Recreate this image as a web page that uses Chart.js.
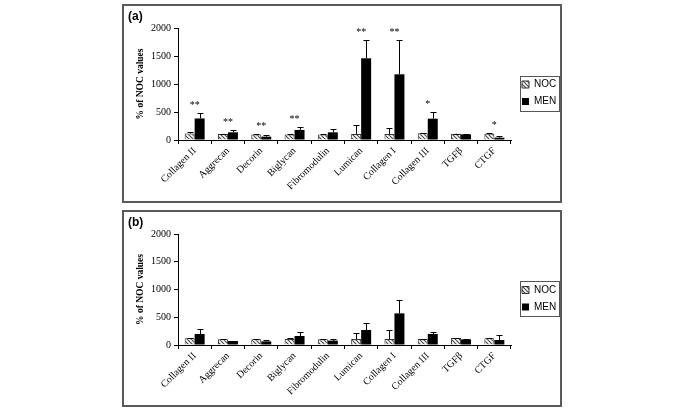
<!DOCTYPE html>
<html>
<head>
<meta charset="utf-8">
<script src="https://cdn.jsdelivr.net/npm/chart.js@4"></script>
<style>
html, body { margin: 0; padding: 0; background: #fff; width: 685px; height: 412px; overflow: hidden; }
.panel { position: absolute; left: 122px; width: 440px; box-sizing: border-box; border: 2px solid #5a5a5a; background: #fff; }
#panelA { top: 4px; height: 199px; }
#panelB { top: 210px; height: 197px; }
.panel canvas { display: block; }
</style>
</head>
<body>
<div class="panel" id="panelA"><canvas id="chartA" width="436" height="195"></canvas></div>
<div class="panel" id="panelB"><canvas id="chartB" width="436" height="193"></canvas></div>
<script>
// Gene names on the x axis
const categories = ['Collagen II', 'Aggrecan', 'Decorin', 'Biglycan', 'Fibromodulin',
                    'Lumican', 'Collagen I', 'Collagen III', 'TGFβ', 'CTGF'];
const yTicks = [0, 500, 1000, 1500, 2000];

// Panel (a)
const nocA    = [115, 105, 100, 100, 100, 107, 107, 119, 110, 113];
const nocErrA = [35, 10, 10, 10, 10, 160, 100, 10, 5, 15];
const menA    = [385, 137, 60, 180, 137, 1459, 1173, 381, 100, 42];
const menErrA = [100, 43, 30, 60, 53, 321, 607, 113, 5, 28];
const sigA    = ['**', '**', '**', '**', '', '**', '**', '*', '', '*'];

// Panel (b)
const nocB    = [120, 103, 103, 110, 103, 108, 108, 108, 126, 120];
const nocErrB = [10, 5, 5, 10, 5, 102, 162, 5, 5, 5];
const menB    = [198, 72, 65, 162, 80, 270, 570, 198, 102, 90];
const menErrB = [85, 5, 25, 78, 27, 131, 240, 36, 13, 84];
const sigB    = ['', '', '', '', '', '', '', '', '', ''];

Chart.defaults.font.family = "'Liberation Serif', 'Times New Roman', serif";
Chart.defaults.color = '#000';

// diagonal hatch used for the NOC bars
function hatch() {
    const c = document.createElement('canvas');
    c.width = 4; c.height = 4;
    const g = c.getContext('2d');
    g.fillStyle = '#fff';
    g.fillRect(0, 0, 4, 4);
    g.strokeStyle = '#4a4a4a';
    g.lineWidth = 1.2;
    g.beginPath();
    g.moveTo(0, 0); g.lineTo(4, 4);
    g.moveTo(-1, 3); g.lineTo(1, 5);
    g.moveTo(3, -1); g.lineTo(5, 1);
    g.stroke();
    return g.createPattern(c, 'repeat');
}

// upper error bars with caps
const errorBars = {
    id: 'errorBars',
    afterDatasetsDraw(chart) {
        const ctx = chart.ctx;
        const y = chart.scales.y;
        ctx.save();
        ctx.strokeStyle = '#000';
        ctx.lineWidth = 1;
        chart.data.datasets.forEach((ds, di) => {
            chart.getDatasetMeta(di).data.forEach((bar, i) => {
                const x = Math.round(bar.x) + 0.5;
                const top = Math.round(y.getPixelForValue(ds.data[i] + ds.errors[i])) + 0.5;
                ctx.beginPath();
                ctx.moveTo(x, bar.y);
                ctx.lineTo(x, top);
                ctx.moveTo(x - 3, top);
                ctx.lineTo(x + 3, top);
                ctx.stroke();
            });
        });
        ctx.restore();
    }
};

// significance asterisks above each pair
const stars = {
    id: 'stars',
    afterDatasetsDraw(chart, args, opts) {
        const ctx = chart.ctx;
        const x = chart.scales.x, y = chart.scales.y;
        const sets = chart.data.datasets;
        ctx.save();
        ctx.font = "10px 'Liberation Serif'";
        ctx.fillStyle = '#000';
        ctx.textAlign = 'center';
        ctx.textBaseline = 'alphabetic';
        (opts.marks || []).forEach((m, i) => {
            if (!m) return;
            const hi = Math.max(...sets.map(ds => ds.data[i] + ds.errors[i]));
            ctx.fillText(m, x.getPixelForValue(i), y.getPixelForValue(hi) - 5);
        });
        ctx.restore();
    }
};

// legend: fixed width, nudged right/down, framed
const legendFix = {
    id: 'legendFix',
    beforeUpdate(chart) {
        const lg = chart.legend;
        if (lg && !lg._fixed) {
            const fit = lg.fit;
            lg.fit = function () { fit.call(this); this.width = 49; };
            lg._fixed = true;
        }
    },
    afterLayout(chart) {
        const lg = chart.legend;
        lg.left += 4; lg.right += 4;
        lg.top += 9; lg.bottom += 9;
    },
    afterDraw(chart) {
        const boxes = chart.legend.legendHitBoxes;
        if (!boxes || !boxes.length) return;
        const l = Math.min(...boxes.map(b => b.left));
        const t = Math.min(...boxes.map(b => b.top));
        const r = Math.max(...boxes.map(b => b.left + b.width));
        const btm = Math.max(...boxes.map(b => b.top + b.height));
        const ctx = chart.ctx;
        ctx.save();
        ctx.strokeStyle = '#555';
        ctx.lineWidth = 1;
        ctx.strokeRect(Math.round(l - 2) + 0.5, Math.round(t - 4) + 0.5,
                       Math.round(r - l + 5), Math.round(btm - t + 8));
        ctx.restore();
    }
};

function makeChart(id, tag, noc, nocErr, men, menErr, sig, xHeight) {
    const ctx = document.getElementById(id).getContext('2d');
    return new Chart(ctx, {
        type: 'bar',
        data: {
            labels: categories,
            datasets: [{
                label: 'NOC',
                data: noc,
                errors: nocErr,
                backgroundColor: hatch(),
                borderColor: '#333',
                borderWidth: 1
            }, {
                label: 'MEN',
                data: men,
                errors: menErr,
                backgroundColor: '#000',
                borderColor: '#000',
                borderWidth: 0
            }]
        },
        options: {
            responsive: false,
            animation: false,
            layout: { padding: { left: 4, right: 0, top: 0, bottom: 0 } },
            datasets: { bar: { categoryPercentage: 0.6, barPercentage: 1 } },
            plugins: {
                title: {
                    display: true,
                    text: tag,
                    align: 'start',
                    color: '#000',
                    font: { family: "'Liberation Sans', Arial, sans-serif", size: 12, weight: 'bold' },
                    padding: { top: 3, bottom: 4.6 }
                },
                legend: {
                    position: 'right',
                    fullSize: false,
                    labels: {
                        boxWidth: 7,
                        boxHeight: 7,
                        padding: 7,
                        color: '#000',
                        font: { family: "'Liberation Sans', Arial, sans-serif", size: 10 }
                    }
                },
                tooltip: { enabled: false },
                stars: { marks: sig }
            },
            scales: {
                x: {
                    grid: { drawOnChartArea: false, offset: true, tickLength: 4, color: '#000' },
                    border: { color: '#000' },
                    ticks: { autoSkip: false, minRotation: 45, maxRotation: 45, font: { size: 10 }, padding: 1 },
                    afterFit(s) { s.height = xHeight; }
                },
                y: {
                    min: 0,
                    max: 2000,
                    afterBuildTicks(s) { s.ticks = yTicks.map(v => ({ value: v })); },
                    grid: { drawOnChartArea: false, tickLength: 4, color: '#000' },
                    border: { color: '#000' },
                    ticks: { font: { size: 10 }, padding: 3, callback: v => String(v) },
                    title: {
                        display: true,
                        text: '% of NOC values',
                        font: { size: 9.5, weight: 'bold' },
                        padding: { top: 7, bottom: 0 }
                    },
                    afterFit(s) { s.width = 50; }
                }
            }
        },
        plugins: [errorBars, stars, legendFix]
    });
}

window.charts = {};
charts.a = makeChart('chartA', '(a)', nocA, nocErrA, menA, menErrA, sigA, 61);
charts.b = makeChart('chartB', '(b)', nocB, nocErrB, menB, menErrB, sigB, 60);
</script>
</body>
</html>
